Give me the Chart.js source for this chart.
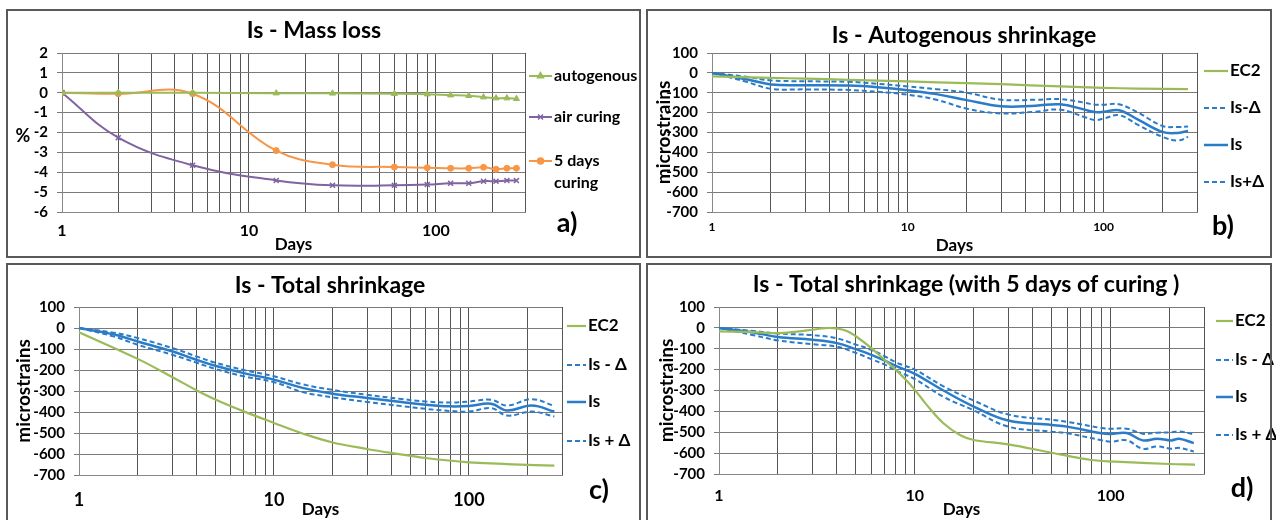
<!DOCTYPE html>
<html>
<head>
<meta charset="utf-8">
<script src="https://cdn.jsdelivr.net/npm/chart.js@4.4.1/dist/chart.umd.min.js"></script>
<style>
  html, body { margin: 0; background: #fff; }
  body { width: 1276px; height: 520px; overflow: hidden; position: relative; }
  canvas { position: absolute; }
  .frame { position: absolute; border: 2px solid #595959; box-sizing: border-box; pointer-events: none; }
</style>
</head>
<body>
<canvas id="chartA"></canvas>
<canvas id="chartB"></canvas>
<canvas id="chartC"></canvas>
<canvas id="chartD"></canvas>
<div class="frame" style="left:6px;top:9px;width:635px;height:249px"></div>
<div class="frame" style="left:646px;top:9px;width:626px;height:249px"></div>
<div class="frame" style="left:6px;top:263px;width:635px;height:262px"></div>
<div class="frame" style="left:646px;top:263px;width:626px;height:262px"></div>
<script>
// ---- data ----
const gridDays = [1, 2, 3, 4, 5, 6, 7, 8, 9, 10, 20, 30, 40, 50, 60, 70, 80, 90, 100, 200, 300];
const labelDays = [1, 10, 100];

// a) mass loss (%)
const daysA = [1, 2, 5, 14, 28, 60, 90, 120, 150, 180, 210, 240, 270];
const autogenous = [0, 0, 0, -0.02, -0.03, -0.05, -0.07, -0.12, -0.15, -0.22, -0.27, -0.27, -0.3];
const airCuring = [0, -2.26, -3.65, -4.41, -4.66, -4.66, -4.62, -4.55, -4.55, -4.45, -4.45, -4.42, -4.42];
const curing5 = [0, -0.05, -0.05, -2.91, -3.62, -3.74, -3.77, -3.8, -3.8, -3.75, -3.85, -3.8, -3.8];
const legendA = ['autogenous', 'air curing', ['5 days', 'curing']];

// b) autogenous shrinkage (microstrains)
const daysEc2B = [1, 2, 3, 5, 10, 20, 30, 60, 100, 150, 270];
const ec2B = [-18, -25, -29, -35, -43, -52, -57, -68, -75, -79, -82];
const daysB = [1, 1.5, 2, 3, 5, 7, 10, 14, 20, 30, 45, 60, 80, 90, 100, 120, 150, 200, 240, 270];
const isMinusB = [0, -20, -38, -42, -45, -55, -68, -82, -100, -135, -135, -132, -150, -160, -160, -158, -200, -267, -272, -270];
const isB = [0, -32, -58, -62, -64, -72, -87, -107, -137, -168, -165, -158, -185, -197, -196, -188, -235, -297, -302, -292];
const isPlusB = [0, -45, -80, -83, -86, -95, -110, -135, -180, -204, -195, -185, -222, -237, -230, -213, -262, -322, -340, -322];
const legendB = ['EC2', 'Is-\u0394', 'Is', 'Is+\u0394'];

// c) total shrinkage (microstrains)
const daysEc2C = [1, 2, 3, 4, 5, 7, 10, 14, 20, 30, 40, 60, 100, 150, 200, 274];
const ec2C = [-20, -147, -233, -296, -340, -397, -452, -502, -545, -576, -595, -619, -640, -647, -652, -655];
const daysC = [1, 1.5, 2, 3, 4, 5, 7, 10, 14, 20, 30, 45, 60, 80, 100, 130, 157, 210, 274];
const isMinusC = [0, -22, -48, -95, -135, -165, -200, -230, -268, -295, -318, -338, -350, -355, -350, -342, -369, -339, -371];
const isC = [0, -30, -64, -111, -151, -180, -215, -246, -285, -313, -333, -352, -365, -373, -371, -361, -393, -369, -398];
const isPlusC = [0, -40, -80, -127, -165, -195, -230, -258, -305, -330, -352, -372, -385, -395, -398, -382, -417, -398, -421];
const legendC = ['EC2', 'Is - \u0394', 'Is', 'Is + \u0394'];

// d) total shrinkage with 5 days of curing (microstrains)
const daysEc2D = [1, 1.5, 2, 2.5, 3, 3.5, 4, 4.5, 5, 6, 7, 8, 9, 10, 11.5, 14, 17, 20, 30, 50, 80, 120, 200, 270];
const ec2D = [-17, -20, -25, -18, -9, -1, -3, -15, -40, -97, -153, -201, -249, -297, -369, -457, -513, -537, -558, -598, -633, -643, -652, -655];
const daysD = [1, 1.5, 2, 3, 4, 5, 6, 7, 8, 10, 14, 20, 30, 50, 60, 90, 100, 121, 146, 173, 204, 224, 266];
const isMinusD = [0, -15, -27, -35, -50, -80, -105, -135, -165, -200, -280, -348, -415, -440, -450, -480, -483, -483, -507, -502, -500, -496, -510];
const isD = [0, -22, -44, -57, -73, -102, -129, -156, -182, -220, -300, -377, -444, -465, -473, -505, -508, -504, -539, -531, -539, -531, -552];
const isPlusD = [0, -35, -60, -78, -90, -120, -150, -175, -205, -245, -330, -395, -473, -497, -505, -538, -545, -539, -579, -568, -579, -575, -592];
const legendD = ['EC2', 'Is - \u0394', 'Is', 'Is + \u0394'];

const GREEN = '#9bbb59';
const PURPLE = '#8064a2';
const ORANGE = '#f79646';
const BLUE = '#2a7bc9';
const FONT = 'Lato';

Chart.defaults.font.family = FONT;
Chart.defaults.font.weight = 'bold';
Chart.defaults.color = '#000';

function pts(xs, ys) {
  return xs.map((x, i) => ({ x: x, y: ys[i] }));
}

// titles, legend, panel letter - drawn in page coordinates
const panelDecor = {
  id: 'panelDecor',
  afterDraw(chart, args, o) {
    const ctx = chart.ctx;
    ctx.save();
    ctx.translate(-o.ox, -o.oy);
    ctx.fillStyle = '#000';
    ctx.textBaseline = 'middle';
    ctx.textAlign = 'center';
    ctx.font = 'bold 23px ' + FONT;
    ctx.fillText(o.title, o.titleAt[0], o.titleAt[1]);
    ctx.font = 'bold 27px ' + FONT;
    ctx.fillText(o.letter, o.letterAt[0], o.letterAt[1]);
    if (o.unit) {
      ctx.font = 'bold 18px ' + FONT;
      ctx.fillText(o.unit, o.unitAt[0], o.unitAt[1]);
    }

    const lg = o.legend;
    chart.data.datasets.forEach((ds, i) => {
      const y = lg.rows[i];
      ctx.save();
      ctx.strokeStyle = ds.borderColor;
      ctx.lineWidth = ds.borderWidth || 2;
      ctx.setLineDash(ds.borderDash || []);
      ctx.beginPath();
      ctx.moveTo(lg.x0, y);
      ctx.lineTo(lg.x1, y);
      ctx.stroke();
      ctx.restore();
      if (ds.pointRadius && Chart.helpers && Chart.helpers.drawPoint) {
        ctx.save();
        ctx.fillStyle = ds.borderColor;
        ctx.strokeStyle = ds.borderColor;
        ctx.lineWidth = 1.5;
        Chart.helpers.drawPoint(ctx, { pointStyle: ds.pointStyle, radius: ds.pointRadius, rotation: 0, borderWidth: 1.5 }, (lg.x0 + lg.x1) / 2, y);
        ctx.restore();
      }
      ctx.font = 'bold ' + lg.size + 'px ' + FONT;
      ctx.textAlign = 'left';
      [].concat(lg.texts[i]).forEach((t, k) => ctx.fillText(t, lg.x1 + 2, y + k * 22));
    });
    ctx.restore();
  }
};

function makeChart(id, geom, datasets, yRange, decor) {
  const [cx, cy, cw, ch] = geom.canvas;
  const [pl, pt, pr, pb] = geom.plot;
  const canvas = document.getElementById(id);
  canvas.width = cw;
  canvas.height = ch;
  canvas.style.left = cx + 'px';
  canvas.style.top = cy + 'px';

  return new Chart(canvas.getContext('2d'), {
    type: 'line',
    data: { datasets },
    options: {
      responsive: false,
      animation: false,
      layout: { padding: { left: 0, top: pt - cy, right: cx + cw - pr, bottom: 0 } },
      elements: {
        line: { tension: 0.4, borderWidth: 2 },
        point: { radius: 0 }
      },
      plugins: {
        legend: { display: false },
        tooltip: { enabled: false },
        panelDecor: Object.assign({ ox: cx, oy: cy }, decor)
      },
      scales: {
        x: {
          type: 'logarithmic',
          min: 1,
          max: 300,
          afterBuildTicks: s => { s.ticks = gridDays.map(v => ({ value: v })); },
          afterFit: s => { s.height = cy + ch - pb; },
          ticks: {
            autoSkip: false,
            maxRotation: 0,
            padding: geom.xPad,
            font: { size: geom.xFont },
            callback: v => labelDays.includes(v) ? String(v) : ''
          },
          grid: { color: '#555', drawTicks: false },
          border: { color: '#888' },
          title: { display: true, text: 'Days', font: { size: 17 }, padding: { top: 0, bottom: geom.daysPad } }
        },
        y: {
          min: yRange[0],
          max: yRange[1],
          afterFit: s => { s.width = pl - cx; },
          ticks: { stepSize: yRange[2], autoSkip: false, padding: 9, font: { size: 15 } },
          grid: { color: '#7a7a7a', tickLength: 5 },
          border: { color: '#888' },
          title: geom.yTitle
            ? { display: true, text: geom.yTitle, font: { size: 19 }, padding: { top: geom.yTitlePad, bottom: 0 } }
            : { display: false }
        }
      }
    },
    plugins: [panelDecor]
  });
}

function ec2Line(xs, ys) {
  return { label: 'EC2', data: pts(xs, ys), borderColor: GREEN, borderWidth: 2.2 };
}
function blueLines(xs, minus, mid, plus) {
  return [
    { label: 'Is-\u0394', data: pts(xs, minus), borderColor: BLUE, borderWidth: 2, borderDash: [5, 3] },
    { label: 'Is', data: pts(xs, mid), borderColor: BLUE, borderWidth: 2.5 },
    { label: 'Is+\u0394', data: pts(xs, plus), borderColor: BLUE, borderWidth: 2, borderDash: [5, 3] }
  ];
}

// a)
makeChart('chartA',
  { canvas: [8, 11, 631, 245], plot: [62, 53, 525, 212], xFont: 16, xPad: 9, daysPad: 1 },
  [
    { label: 'autogenous', data: pts(daysA, autogenous), borderColor: GREEN, pointStyle: 'triangle', pointRadius: 3.5, pointBackgroundColor: GREEN, pointBorderColor: GREEN },
    { label: 'air curing', data: pts(daysA, airCuring), borderColor: PURPLE, pointStyle: 'crossRot', pointRadius: 3.5, pointBorderColor: PURPLE, pointBorderWidth: 1.5 },
    { label: '5 days curing', data: pts(daysA, curing5), borderColor: ORANGE, pointStyle: 'circle', pointRadius: 3, pointBackgroundColor: ORANGE, pointBorderColor: ORANGE }
  ],
  [-6, 2, 1],
  {
    title: 'Is - Mass loss', titleAt: [314, 31],
    letter: 'a)', letterAt: [567, 223],
    unit: '%', unitAt: [23, 136],
    legend: { x0: 529, x1: 552, rows: [76, 117, 161], size: 16, texts: legendA }
  });

// b)
makeChart('chartB',
  { canvas: [648, 11, 622, 245], plot: [712, 53, 1197, 212], xFont: 12, xPad: 8, daysPad: 0, yTitle: 'microstrains', yTitlePad: 4 },
  [ec2Line(daysEc2B, ec2B)].concat(blueLines(daysB, isMinusB, isB, isPlusB)),
  [-700, 100, 100],
  {
    title: 'Is - Autogenous shrinkage', titleAt: [964, 36],
    letter: 'b)', letterAt: [1223, 226],
    legend: { x0: 1204, x1: 1228, rows: [71, 108, 145, 182], size: 17, texts: legendB }
  });

// c)
makeChart('chartC',
  { canvas: [8, 265, 631, 255], plot: [79, 307, 562, 475], xFont: 18, xPad: 14, daysPad: 0, yTitle: 'microstrains', yTitlePad: 4 },
  [ec2Line(daysEc2C, ec2C)].concat(blueLines(daysC, isMinusC, isC, isPlusC)),
  [-700, 100, 100],
  {
    title: 'Is - Total shrinkage', titleAt: [330, 286],
    letter: 'c)', letterAt: [599, 490],
    legend: { x0: 567, x1: 586, rows: [326, 365, 402, 441], size: 17, texts: legendC }
  });

// d)
makeChart('chartD',
  { canvas: [648, 265, 628, 255], plot: [719, 307, 1204, 474], xFont: 16, xPad: 12, daysPad: 0, yTitle: 'microstrains', yTitlePad: 7 },
  [ec2Line(daysEc2D, ec2D)].concat(blueLines(daysD, isMinusD, isD, isPlusD)),
  [-700, 100, 100],
  {
    title: 'Is - Total shrinkage (with 5 days of curing )', titleAt: [966, 285],
    letter: 'd)', letterAt: [1242, 488],
    legend: { x0: 1216, x1: 1233, rows: [321, 360, 397, 435], size: 17, texts: legendD }
  });
</script>
</body>
</html>
